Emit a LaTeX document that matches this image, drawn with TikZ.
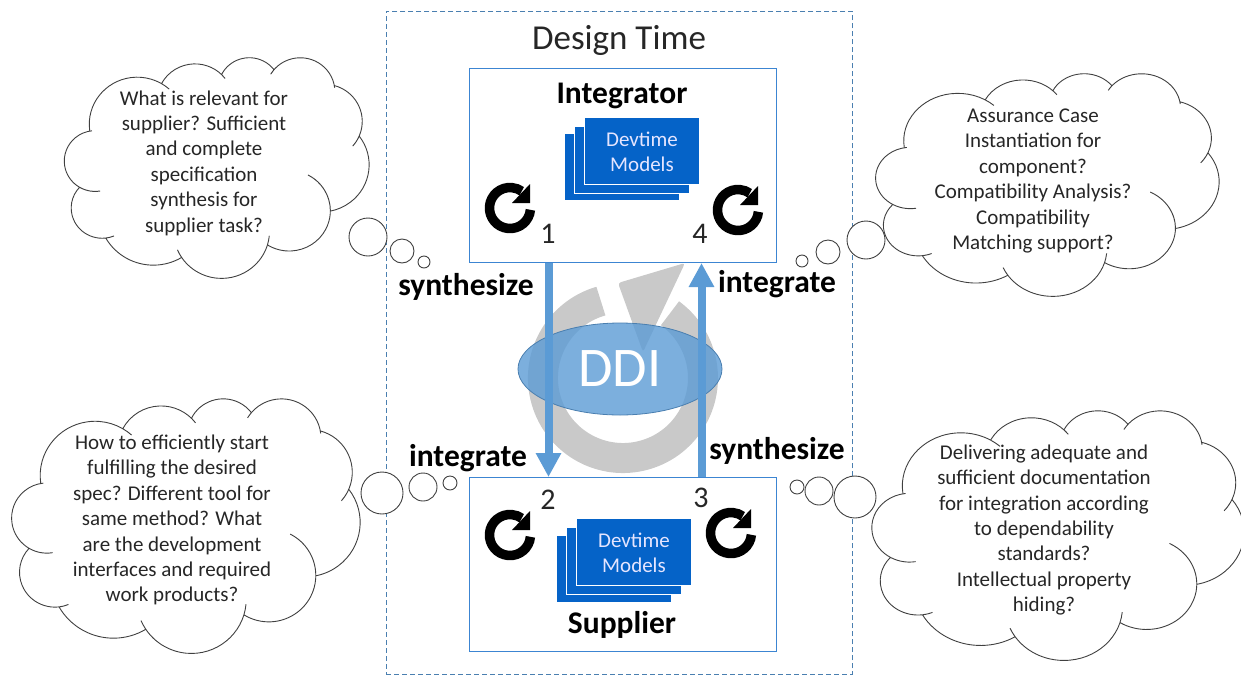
\documentclass[tikz,border=0pt]{standalone}
\usepackage{fontspec}
\setmainfont{Carlito}
\usetikzlibrary{shapes.geometric, arrows.meta, calc}

\definecolor{boxblue}{HTML}{3C85D2}
\definecolor{modelblue}{HTML}{0563C8}
\definecolor{arrowblue}{HTML}{5B9BD5}
\definecolor{dashblue}{HTML}{4A7FB0}
\definecolor{ringgray}{HTML}{C9C9C9}

\tikzset{declare function={cloudang(\p,\q,\a)=atan2(\p*sin(\a),\q*cos(\a))+360*round((\a-atan2(\p*sin(\a),\q*cos(\a)))/360);}}

% one puff per line: radii, start, sweep, tail back, tail forward
\newcommand{\thoughtcloud}[4]{
\begin{scope}[shift={(#1,#2)}, x=#3pt/432, y=-#4pt/432]
\draw [cloudline] (39,143.7)
  \foreach \rx/\ry/\st/\sw/\bk/\fw [
    evaluate=\st as \ts using {cloudang(\rx,\ry,\st)},
    evaluate=\st as \tb using {cloudang(\rx,\ry,\st-\bk)},
    evaluate=\st as \te using {cloudang(\rx,\ry,\st+\sw+\fw)},
    evaluate=\st as \tc using {cloudang(\rx,\ry,\st+\sw)}] in {
    67.53/91.90/-190.487/123.781/0/10,
    53.33/72.67/-144.102/89.945/0/8,
    43.65/59.45/-145.808/99.723/0/0,
    48.57/65.95/-130.986/117.242/10/5,
    53.33/72.73/-78.709/109.027/0/20,
    67.75/92.20/-46.272/128.0/0/0,
    57.85/78.67/0.625/114.033/70/0,
    67.52/92.15/22.452/115.173/15/12,
    77.20/105.43/66.243/75.711/0/0,
    43.60/59.18/-274.942/146.736/12/0,
    43.45/59.45/-246.829/152.519/30/0}{
    arc [start angle=\ts, end angle=\tb, x radius=\rx, y radius=\ry]
    arc [start angle=\tb, end angle=\te, x radius=\rx, y radius=\ry]
    arc [start angle=\te, end angle=\tc, x radius=\rx, y radius=\ry]
  };
\end{scope}
}

\tikzset{
  pics/reload/.style={code={
    \draw [line width=9.5pt, black] (20.4,1.8) arc [start angle=5, end angle=305, radius=20.5];
    \fill [black] (20,-24) -- (20,-5) -- (2,-5) -- cycle;
  }}
}

\begin{document}
\begin{tikzpicture}[x=1pt, y=-1pt]

\tikzstyle{cloudline} = [draw=black!75, line width=0.9pt]
\tikzstyle{bubble} = [circle, draw=black!75, line width=0.9pt, fill=white, inner sep=0pt]
\tikzstyle{cloudtext} = [text centered, align=center, text=black!85, font=\fontsize{21}{25.4}\selectfont]
\tikzstyle{rolebox} = [rectangle, draw=boxblue, line width=1pt, minimum width=307pt]
\tikzstyle{rolename} = [font=\fontsize{31.5}{34}\selectfont\bfseries]
\tikzstyle{stepname} = [font=\fontsize{31.5}{34}\selectfont\bfseries]
\tikzstyle{stepnum} = [font=\fontsize{30}{32}\selectfont, text=black!85]
\tikzstyle{model} = [rectangle, draw=white, line width=0.8pt, fill=modelblue, minimum width=115pt, minimum height=67pt, inner sep=0pt]
\tikzstyle{modeltext} = [text centered, align=center, text=white!90!blue, font=\fontsize{21}{25.4}\selectfont]
\tikzstyle{arrow} = [line width=8pt, draw=arrowblue, -{Triangle[length=24pt, width=24pt, fill=arrowblue]}]

\useasboundingbox (0,0) rectangle (1241,675);

\node (designtime) [rectangle, draw=dashblue, dash pattern=on 5pt off 3pt, line width=0.9pt, minimum width=466pt, minimum height=663pt, anchor=north west] at (386,11) {};
\node (title) [font=\fontsize{35}{38}\selectfont, text=black!85] at (619,40) {Design Time};

% big grey arrow behind DDI
\draw [line width=30pt, ringgray] (600.9,301.1) arc [start angle=254, end angle=-54, radius=80];
\fill [ringgray, rounded corners=3pt] (618,283) -- (685,263) -- (643,352) -- cycle;

\node (integrator) [rolebox, minimum height=194pt, anchor=north west] at (469,68) {};
\node (supplier) [rolebox, minimum height=174pt, anchor=north west] at (469,477) {};
\node [rolename] at (622,96) (intname) {Integrator};
\node [rolename] at (622,625) (supname) {Supplier};

% model stacks
\node (m1) [model] at (622,167) {};
\node (m2) [model] at (632,160) {};
\node (m3) [model] at (642,151) {};
\node (m3t) [modeltext] at (642,152) {Devtime\\Models};
\node (s1) [model] at (614,569) {};
\node (s2) [model] at (624,561) {};
\node (s3) [model] at (634,552) {};
\node (s3t) [modeltext] at (634,553) {Devtime\\Models};

\pic (loopa) at (510,208) {reload};
\pic (loopb) at (738,210) {reload};
\pic (loopc) at (510,535) {reload};
\pic (loopd) at (731,533) {reload};

\node (one) [stepnum] at (548,234) {1};
\node (four) [stepnum] at (700,234) {4};
\node (two) [stepnum] at (548,500) {2};
\node (three) [stepnum] at (701,498) {3};

\node (ddi) [ellipse, draw=dashblue, line width=0.8pt, fill=arrowblue, fill opacity=0.8, text opacity=1, text=white, minimum width=204pt, minimum height=92pt, inner sep=0pt, font=\fontsize{56}{59}\selectfont] at (620,369) {DDI};

\draw [arrow] ($(integrator.south)+(-74.5,0)$) -- ($(supplier.north)+(-74.5,0)$);
\draw [arrow] ($(supplier.north)+(78.5,0)$) -- ($(integrator.south)+(78.5,0)$);

\node (synthA) [stepname] at (466,287) {synthesize};
\node (integA) [stepname] at (777,284) {integrate};
\node (integB) [stepname] at (468,458) {integrate};
\node (synthB) [stepname] at (777,451) {synthesize};

% clouds
\thoughtcloud{62}{57}{307}{221}
\thoughtcloud{873}{73}{346}{223}
\thoughtcloud{9}{398}{351}{255}
\thoughtcloud{869}{410}{375}{250}

\node (bubA) [bubble, minimum size=38pt] at (368,237) {};
\node (bubB) [bubble, minimum size=24pt] at (402,251) {};
\node (bubC) [bubble, minimum size=12pt] at (424,262) {};
\node (bubD) [bubble, minimum size=38pt] at (866,240) {};
\node (bubE) [bubble, minimum size=24pt] at (828,252) {};
\node (bubF) [bubble, minimum size=12pt] at (802,261) {};
\node (bubG) [bubble, minimum size=42pt] at (382,493) {};
\node (bubH) [bubble, minimum size=28pt] at (423,487) {};
\node (bubI) [bubble, minimum size=14pt] at (450,483) {};
\node (bubJ) [bubble, minimum size=42pt] at (855,497) {};
\node (bubK) [bubble, minimum size=28pt] at (819,491) {};
\node (bubL) [bubble, minimum size=14pt] at (797,487) {};

\node (texta) [cloudtext] at (204,163) {What is relevant for\\supplier? Sufficient\\and complete\\specification\\synthesis for\\supplier task?};
\node (textb) [cloudtext] at (1033,181) {Assurance Case\\Instantiation for\\component?\\Compatibility Analysis?\\Compatibility\\Matching support?};
\node (textc) [cloudtext] at (172,520) {How to efficiently start\\fulfilling the desired\\spec? Different tool for\\same method? What\\are the development\\interfaces and required\\work products?};
\node (textd) [cloudtext] at (1044,530) {Delivering adequate and\\sufficient documentation\\for integration according\\to dependability\\standards?\\Intellectual property\\hiding?};

\end{tikzpicture}
\end{document}
